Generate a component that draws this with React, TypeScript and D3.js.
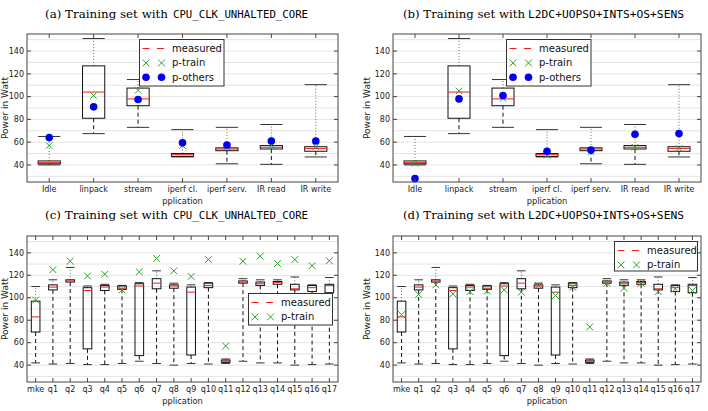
import React, { useRef, useEffect } from 'react';
import * as d3 from 'd3';

// micro benchmarks (panels a, b)
const microApps = ['Idle', 'linpack', 'stream', 'iperf cl.', 'iperf serv.', 'IR read', 'IR write'];
const microLow = [40, 67.5, 73, 47, 41, 40.5, 47];
const microQ1 = [41, 81, 92, 47.5, 52.5, 54, 52];
const microMed = [42, 104, 98, 49, 54, 55.5, 54.5];
const microQ3 = [43.5, 127, 107.5, 50, 55, 57, 56];
const microHigh = [65, 151, 115, 71, 73, 75.5, 110.5];
const trainA = [57, 101, 105.5, 57, 56, 57, 56];
const othersA = [64, 91, 97.5, 59.5, 57.5, 61, 61];
const trainB = [41.5, 105, 98.5, 48.5, 51.5, 55.5, 54.5];
const othersB = [28, 98, 101, 52, 53, 67, 67.5];

// queries (panels c, d)
const queryApps = ['mke', 'q1', 'q2', 'q3', 'q4', 'q5', 'q6', 'q7', 'q8', 'q9', 'q10', 'q11', 'q12', 'q13', 'q14', 'q15', 'q16', 'q17'];
const queryLow = [42, 41, 41.5, 40.5, 40.5, 41.5, 43.5, 41.5, 40, 41.5, 41, 41.5, 43.5, 42, 42, 40, 40.5, 41];
const queryQ1 = [69.5, 107, 114, 54.5, 106.5, 107.5, 48.5, 108, 108.5, 49, 109, 42.5, 113, 111, 112, 107, 105.5, 104.5];
const queryMed = [83, 109.5, 115, 106.5, 109.5, 108.5, 110.5, 113, 110.5, 105, 111, 43.5, 114, 112.5, 113.5, 108, 109, 111];
const queryQ3 = [97, 111.5, 116, 109, 111, 110.5, 112.5, 117, 111.5, 109.5, 113, 44.5, 115, 114, 114.5, 112, 111, 112];
const queryHigh = [110, 116, 127, 110.5, 112, 111, 113.5, 124, 113, 111.5, 113.5, 45.5, 117, 116, 116, 118.5, 111.5, 118];
const trainC = [98, 125, 132.5, 119.5, 121, 107, 123, 135, 124, 119, 134, 57, 132.5, 137, 130.5, 134, 128.5, 133];
const trainD = [85, 103, 111.5, 103.5, 105.5, 106, 107, 105, 111, 102, 109.5, 74, 113, 108.5, 113, 105.5, 108, 106.5];

const yTicks = [40, 60, 80, 100, 120, 140];
const gridValues = [30, 40, 50, 60, 70, 80, 90, 100, 110, 120, 130, 140, 150];

const SANS = 'DejaVu Sans';
const GREEN = '#2ca02c';
const BLUE = '#0000ee';
const RED = '#ee2020';

const panels = [
  {
    letter: '(a)', counter: 'CPU_CLK_UNHALTED_CORE', cats: microApps,
    low: microLow, q1: microQ1, med: microMed, q3: microQ3, high: microHigh,
    train: trainA, others: othersA,
    left: 27, right: 338, top: 34, bottom: 182,
    titleX: 45, serifW: 123, monoX: 173, monoW: 135, titleY: 18,
    legend: { x: 139.5, y: 39.5, w: 84.5, h: 46.5 },
  },
  {
    letter: '(b)', counter: 'L2DC+UOPSO+INTS+OS+SENS', cats: microApps,
    low: microLow, q1: microQ1, med: microMed, q3: microQ3, high: microHigh,
    train: trainB, others: othersB,
    left: 393, right: 701, top: 34, bottom: 182,
    titleX: 403, serifW: 122, monoX: 528, monoW: 156, titleY: 18,
    legend: { x: 506.5, y: 39.5, w: 84.5, h: 46.5 },
  },
  {
    letter: '(c)', counter: 'CPU_CLK_UNHALTED_CORE', cats: queryApps,
    low: queryLow, q1: queryQ1, med: queryMed, q3: queryQ3, high: queryHigh,
    train: trainC, others: null,
    left: 27, right: 338, top: 236, bottom: 382,
    titleX: 45, serifW: 123, monoX: 173, monoW: 135, titleY: 219,
    legend: { x: 248.5, y: 293.5, w: 84, h: 31.5 },
  },
  {
    letter: '(d)', counter: 'L2DC+UOPSO+INTS+OS+SENS', cats: queryApps,
    low: queryLow, q1: queryQ1, med: queryMed, q3: queryQ3, high: queryHigh,
    train: trainD, others: null,
    left: 393, right: 701, top: 236, bottom: 382,
    titleX: 403, serifW: 122, monoX: 528, monoW: 156, titleY: 219,
    legend: { x: 614.5, y: 241.5, w: 83, h: 29.5 },
  },
];

const drawCross = (g, x, y, r, color) => {
  g.append('path')
    .attr('d', `M${x - r},${y - r}L${x + r},${y + r}M${x - r},${y + r}L${x + r},${y - r}`)
    .attr('stroke', color).attr('stroke-width', 1).attr('fill', 'none');
};

const drawPanel = (svg, p) => {
  const g = svg.append('g');
  const x = d3.scaleBand().domain(p.cats).range([p.left, p.right]);
  const y = d3.scaleLinear().domain([25, 155]).range([p.bottom, p.top]);
  const cx = (c) => x(c) + x.bandwidth() / 2;
  const half = x.bandwidth() * 0.25;

  // grid
  g.selectAll('.grid').data(gridValues).join('line')
    .attr('x1', p.left).attr('x2', p.right)
    .attr('y1', (d) => y(d)).attr('y2', (d) => y(d))
    .attr('stroke', '#e4e4e4').attr('stroke-width', 1);

  const rows = p.cats.map((c, i) => ({
    c, low: p.low[i], q1: p.q1[i], med: p.med[i], q3: p.q3[i], high: p.high[i],
    train: p.train[i], other: p.others ? p.others[i] : null,
  }));

  rows.forEach((d) => {
    const X = cx(d.c);
    // upper whisker (dotted) and lower whisker (dashed)
    g.append('line').attr('x1', X).attr('x2', X).attr('y1', y(d.q3)).attr('y2', y(d.high))
      .attr('stroke', '#666').attr('stroke-dasharray', '1,2').attr('stroke-width', 1);
    g.append('line').attr('x1', X).attr('x2', X).attr('y1', y(d.q1)).attr('y2', y(d.low))
      .attr('stroke', '#111').attr('stroke-dasharray', '4,3').attr('stroke-width', 1);
    // caps
    [d.low, d.high].forEach((v) => {
      g.append('line').attr('x1', X - half).attr('x2', X + half).attr('y1', y(v)).attr('y2', y(v))
        .attr('stroke', '#333').attr('stroke-width', 1);
    });
    // box
    g.append('rect').attr('x', X - half).attr('width', half * 2)
      .attr('y', y(d.q3)).attr('height', y(d.q1) - y(d.q3))
      .attr('fill', 'none').attr('stroke', '#111').attr('stroke-width', 1);
    g.append('line').attr('x1', X - half).attr('x2', X + half).attr('y1', y(d.med)).attr('y2', y(d.med))
      .attr('stroke', RED).attr('stroke-width', 1);
  });

  // predictions
  const crossR = p.cats.length > 10 ? 3.4 : 3.2;
  rows.forEach((d) => drawCross(g, cx(d.c), y(d.train), crossR, GREEN));
  if (p.others) {
    g.selectAll('.other').data(rows).join('circle')
      .attr('cx', (d) => cx(d.c)).attr('cy', (d) => y(d.other)).attr('r', 3.8)
      .attr('fill', BLUE);
  }

  // frame
  g.append('rect').attr('x', p.left).attr('y', p.top)
    .attr('width', p.right - p.left).attr('height', p.bottom - p.top)
    .attr('fill', 'none').attr('stroke', '#444').attr('stroke-width', 1);

  // y ticks
  yTicks.forEach((t) => {
    const Y = y(t);
    g.append('line').attr('x1', p.left).attr('x2', p.left + 4).attr('y1', Y).attr('y2', Y).attr('stroke', '#444');
    g.append('line').attr('x1', p.right - 4).attr('x2', p.right).attr('y1', Y).attr('y2', Y).attr('stroke', '#444');
    g.append('text').attr('x', p.left - 3).attr('y', Y).attr('dy', '0.34em')
      .attr('text-anchor', 'end').attr('font-family', SANS).attr('font-size', 8)
      .attr('fill', '#222').text(t);
  });

  // x ticks
  p.cats.forEach((c) => {
    const X = cx(c);
    g.append('line').attr('x1', X).attr('x2', X).attr('y1', p.bottom).attr('y2', p.bottom - 4).attr('stroke', '#444');
    g.append('line').attr('x1', X).attr('x2', X).attr('y1', p.top).attr('y2', p.top + 4).attr('stroke', '#444');
    g.append('text').attr('x', X).attr('y', p.bottom + 9.5)
      .attr('text-anchor', 'middle').attr('font-family', SANS).attr('font-size', 8)
      .attr('fill', '#222').text(c);
  });

  // axis labels
  g.append('text').attr('x', (p.left + p.right) / 2).attr('y', p.bottom + 21.5)
    .attr('text-anchor', 'middle').attr('font-family', SANS).attr('font-size', 8.3)
    .attr('fill', '#222').text('pplication');
  const ly = (p.top + p.bottom) / 2;
  const lx = Math.max(p.left - 26, 5);
  g.append('text').attr('transform', `translate(${lx},${ly}) rotate(-90)`).attr('dy', '0.35em')
    .attr('text-anchor', 'middle').attr('font-family', SANS).attr('font-size', 9)
    .attr('fill', '#222').text('Power in Watt');

  // title
  g.append('text').attr('x', p.titleX).attr('y', p.titleY)
    .attr('font-family', 'DejaVu Serif').attr('font-size', 11.5)
    .attr('textLength', p.serifW).attr('lengthAdjust', 'spacingAndGlyphs')
    .text(`${p.letter} Training set with`);
  g.append('text').attr('x', p.monoX).attr('y', p.titleY)
    .attr('font-family', 'DejaVu Sans Mono').attr('font-size', 11)
    .attr('textLength', p.monoW).attr('lengthAdjust', 'spacingAndGlyphs')
    .text(p.counter);

  // legend
  const L = p.legend;
  g.append('rect').attr('x', L.x).attr('y', L.y).attr('width', L.w).attr('height', L.h)
    .attr('fill', '#fff').attr('stroke', '#333').attr('stroke-width', 1);
  const items = p.others ? ['measured', 'p-train', 'p-others'] : ['measured', 'p-train'];
  items.forEach((name, i) => {
    const Y = L.y + 9 + i * 14.4;
    const s1 = L.x + 6.5;
    const s2 = L.x + 22;
    if (name === 'measured') {
      g.append('line').attr('x1', L.x + 3).attr('x2', L.x + 25.5).attr('y1', Y).attr('y2', Y)
        .attr('stroke', RED).attr('stroke-width', 1).attr('stroke-dasharray', '7,7.5');
    } else if (name === 'p-train') {
      drawCross(g, s1, Y, 3.4, GREEN);
      drawCross(g, s2, Y, 3.4, GREEN);
    } else {
      g.append('circle').attr('cx', s1).attr('cy', Y).attr('r', 3.8).attr('fill', BLUE);
      g.append('circle').attr('cx', s2).attr('cy', Y).attr('r', 3.8).attr('fill', BLUE);
    }
    g.append('text').attr('x', L.x + 32.5).attr('y', Y).attr('dy', '0.35em')
      .attr('font-family', SANS).attr('font-size', 10).attr('fill', '#111').text(name);
  });
};

const App = () => {
  const ref = useRef(null);

  useEffect(() => {
    const svg = d3.select(ref.current);
    svg.selectAll('*').remove();
    panels.forEach((p) => drawPanel(svg, p));
  }, []);

  return (
    <svg ref={ref} width={708} height={411}
      style={{ position: 'absolute', left: 0, top: 0, background: '#fff' }} />
  );
};

export default App;
